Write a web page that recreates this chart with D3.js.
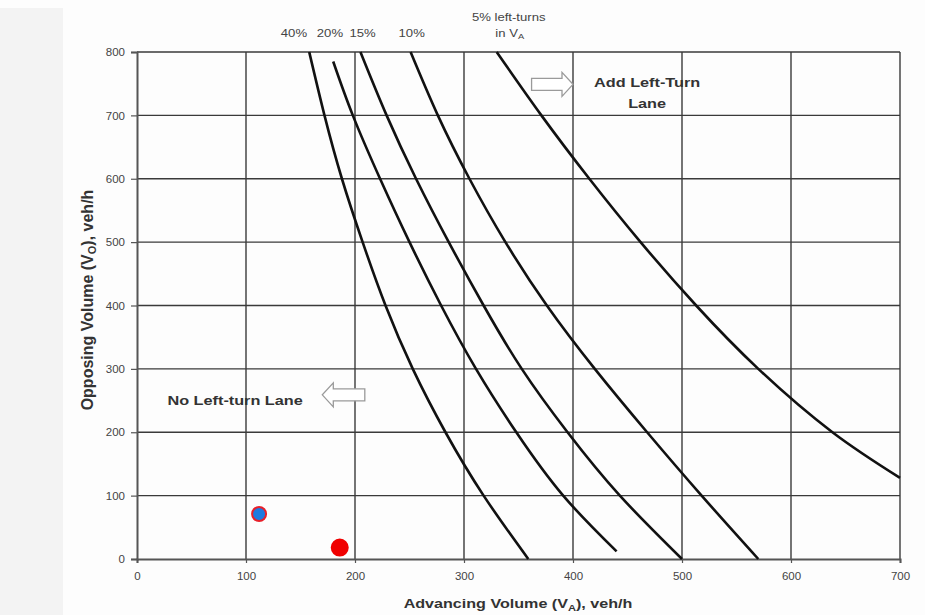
<!DOCTYPE html>
<html>
<head>
<meta charset="utf-8">
<script src="https://cdn.jsdelivr.net/npm/d3@7"></script>
<style>
  body { margin: 0; background: #fdfdfd; }
  svg { font-family: "Liberation Sans", Arial, sans-serif; }
  .tick text { fill: #444; font-size: 11.5px; }
  .lbl { fill: #333; font-weight: bold; font-size: 13px; }
  .pct { fill: #444; font-size: 10.5px; }
</style>
</head>
<body>
<svg width="925" height="615"></svg>
<script>
// share of left turns in advancing volume
const curveNames = ["40%", "20%", "15%", "10%", "5%"];

// [advancing veh/h, opposing veh/h]
const pct40 = [[158,800],[172,700],[188,600],[207,500],[228,400],[253,300],[283,200],[318,100],[359,0]];
const pct20 = [[180,785],[198,700],[223,600],[250,500],[279,400],[311,300],[348,200],[391,100],[440,12]];
const pct15 = [[205,800],[229,700],[256,600],[286,500],[318,400],[353,300],[395,200],[443,100],[500,0]];
const pct10 = [[251,800],[276,700],[305,600],[338,500],[376,400],[420,300],[468,200],[518,100],[570,0]];
const pct5  = [[330,800],[371,700],[415,600],[462,500],[513,400],[570,300],[638,200],[700,128]];

// observed intersections
const obsPoints = [
  { va: 112, vo: 71, fill: "#1e7ae0", ring: "#e8202a" },
  { va: 186, vo: 18, fill: "#f00000", ring: "#f00000" }
];

const xTicks = [0, 100, 200, 300, 400, 500, 600, 700];
const yTicks = [0, 100, 200, 300, 400, 500, 600, 700, 800];

const svg = d3.select("svg");

// grey strip at left edge of the scan
svg.append("rect")
    .attr("x", 0).attr("y", 8)
    .attr("width", 63).attr("height", 607)
    .attr("fill", "#f3f3f3");

const x = d3.scaleLinear().domain([0, 700]).range([137, 900]);
const y = d3.scaleLinear().domain([0, 800]).range([559, 52]);

// grid
svg.append("g")
    .selectAll("line")
    .data(xTicks.slice(1))
    .join("line")
    .attr("x1", d => x(d)).attr("x2", d => x(d))
    .attr("y1", y(0)).attr("y2", y(800))
    .attr("stroke", "#3a3a3a").attr("stroke-width", 1.4);

svg.append("g")
    .selectAll("line")
    .data(yTicks.slice(1))
    .join("line")
    .attr("x1", x(0)).attr("x2", x(700))
    .attr("y1", d => y(d)).attr("y2", d => y(d))
    .attr("stroke", "#3a3a3a").attr("stroke-width", 1.4);

// axes
const xAxis = d3.axisBottom(x).tickValues(xTicks).tickSize(4).tickPadding(9);
const yAxis = d3.axisLeft(y).tickValues(yTicks).tickSize(6).tickPadding(6);

const gX = svg.append("g")
    .attr("transform", `translate(0,${y(0)})`)
    .call(xAxis);
const gY = svg.append("g")
    .attr("transform", `translate(${x(0)},0)`)
    .call(yAxis);

[gX, gY].forEach(g => {
  g.select(".domain").attr("stroke", "#555").attr("stroke-width", 2);
  g.selectAll(".tick line").attr("stroke", "#555").attr("stroke-width", 1.2);
  g.selectAll(".tick text").attr("font-family", null).attr("font-size", null);
});

// curves
const line = d3.line()
    .x(d => x(d[0]))
    .y(d => y(d[1]))
    .curve(d3.curveNatural);

const series = [pct40, pct20, pct15, pct10, pct5];
svg.append("g")
    .selectAll("path")
    .data(series)
    .join("path")
    .attr("d", line)
    .attr("fill", "none")
    .attr("stroke", "#111")
    .attr("stroke-width", 2.6);

// the scan is stretched sideways, so text gets a wider transform
function stretchText(px, py, cls, sx) {
  return svg.append("text")
      .attr("class", cls)
      .attr("text-anchor", "middle")
      .attr("transform", `translate(${px},${py}) scale(${sx},1)`);
}

// curve labels across the top
const labelAt = [144, 177, 207, 252];
curveNames.slice(0, 4).forEach((d, i) => {
  stretchText(x(labelAt[i]), 37, "pct", 1.25).text(d);
});
stretchText(x(341), 21, "pct", 1.25).text(curveNames[4] + " left-turns");
const inVa = stretchText(x(342), 37, "pct", 1.25);
inVa.append("tspan").text("in V");
inVa.append("tspan").attr("font-size", "7.5px").attr("dy", 2).text("A");

// hollow arrows
function arrow(x0, x1, yc, dir) {
  const hl = 11, sh = 6, hh = 12;
  const X0 = x(x0), X1 = x(x1), Y = y(yc);
  let pts;
  if (dir > 0) {
    const b = X1 - hl;
    pts = [[X0, Y - sh], [b, Y - sh], [b, Y - hh], [X1, Y], [b, Y + hh], [b, Y + sh], [X0, Y + sh]];
  } else {
    const b = X0 + hl;
    pts = [[X1, Y - sh], [b, Y - sh], [b, Y - hh], [X0, Y], [b, Y + hh], [b, Y + sh], [X1, Y + sh]];
  }
  svg.append("path")
      .attr("d", d3.line()(pts) + "Z")
      .attr("fill", "#fff")
      .attr("stroke", "#9a9a9a")
      .attr("stroke-width", 1.3);
}
arrow(362, 400, 749, 1);
arrow(170, 209, 259, -1);

// region labels
stretchText(x(468), y(744), "lbl", 1.25).text("Add Left-Turn");
stretchText(x(468), y(712), "lbl", 1.25).text("Lane");
stretchText(x(90), y(243), "lbl", 1.25).text("No Left-turn Lane");

// observed points
svg.append("g")
    .selectAll("circle")
    .data(obsPoints)
    .join("circle")
    .attr("cx", d => x(d.va))
    .attr("cy", d => y(d.vo))
    .attr("r", (d, i) => i === 0 ? 7 : 8)
    .attr("fill", d => d.fill)
    .attr("stroke", d => d.ring)
    .attr("stroke-width", 2);

// axis titles
const xt = stretchText(518, 608, "lbl", 1.24);
xt.append("tspan").text("Advancing Volume (V");
xt.append("tspan").style("font-size", "9px").attr("dy", 3).text("A");
xt.append("tspan").attr("dy", -3).text("), veh/h");

const yt = svg.append("text").attr("class", "lbl")
    .style("font-size", "16px")
    .attr("transform", "translate(93,300) rotate(-90)")
    .attr("text-anchor", "middle");
yt.append("tspan").text("Opposing Volume (V");
yt.append("tspan").style("font-size", "11px").attr("dy", 3).text("O");
yt.append("tspan").attr("dy", -3).text("), veh/h");
</script>
</body>
</html>
